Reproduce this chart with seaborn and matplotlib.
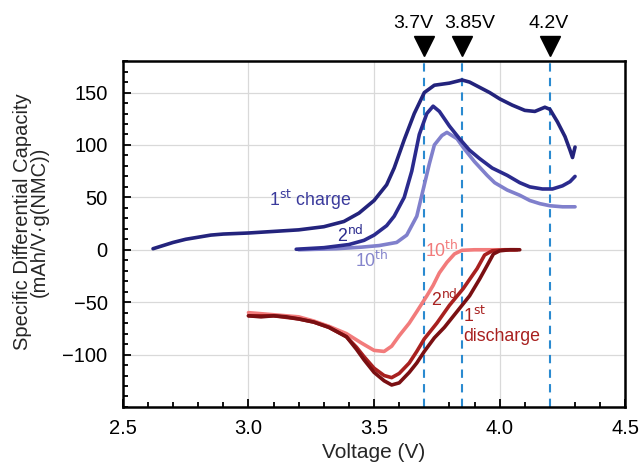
import matplotlib
matplotlib.use("Agg")
import matplotlib.pyplot as plt
import seaborn as sns
import pandas as pd
from matplotlib.ticker import MultipleLocator
import matplotlib.transforms as mtransforms

# ---- data ----
ch1_v = [2.62, 2.66, 2.70, 2.75, 2.80, 2.85, 2.90, 3.00, 3.10, 3.20, 3.30, 3.38, 3.44, 3.50, 3.55,
         3.58, 3.62, 3.66, 3.70, 3.74, 3.80, 3.85, 3.88, 3.92, 3.96, 4.00, 4.05, 4.10, 4.14, 4.18,
         4.20, 4.23, 4.26, 4.28, 4.29, 4.30]
ch1_q = [1, 4, 7, 10, 12, 14, 15, 16, 17.5, 19, 22, 27, 35, 47, 62,
         78, 105, 130, 150, 157, 159, 162, 160, 155, 150, 144, 138, 133, 132, 136,
         134, 122, 108, 95, 88, 98]

ch2_v = [3.19, 3.30, 3.40, 3.46, 3.50, 3.55, 3.58, 3.62, 3.65, 3.68, 3.71, 3.735, 3.76, 3.80, 3.84,
         3.88, 3.92, 3.97, 4.03, 4.08, 4.12, 4.17, 4.21, 4.25, 4.28, 4.30]
ch2_q = [0.5, 2, 5, 9, 14, 23, 32, 50, 75, 110, 130, 137, 132, 118, 106,
         95, 87, 78, 71, 64, 60, 58, 58, 61, 65, 70]

ch10_v = [3.20, 3.35, 3.45, 3.52, 3.59, 3.63, 3.67, 3.70, 3.72, 3.74, 3.77, 3.79, 3.83, 3.86, 3.90,
          3.95, 3.98, 4.03, 4.08, 4.12, 4.16, 4.20, 4.25, 4.30]
ch10_q = [0, 1, 2.5, 4, 7, 14, 32, 62, 82, 100, 109, 112, 106, 96, 84,
          71, 64, 57, 52, 47, 44, 42, 41, 41]

dis1_v = [3.00, 3.05, 3.10, 3.15, 3.20, 3.26, 3.32, 3.39, 3.43, 3.46, 3.50, 3.54, 3.57, 3.60, 3.64,
          3.67, 3.70, 3.74, 3.78, 3.84, 3.88, 3.92, 3.95, 3.975, 4.00, 4.04, 4.08]
dis1_q = [-63, -64, -63, -64, -66, -69, -74, -83, -95, -105, -117, -125, -129, -127, -117,
          -108, -97, -84, -74, -56, -44, -28, -15, -4, -1, 0, 0]

dis2_v = [3.00, 3.10, 3.20, 3.26, 3.32, 3.39, 3.43, 3.46, 3.50, 3.54, 3.57, 3.60, 3.64, 3.67, 3.70,
          3.75, 3.80, 3.855, 3.91, 3.94, 3.97, 4.02, 4.07]
dis2_q = [-63, -63, -66, -69, -74, -83, -93, -102, -113, -120, -122, -118, -108, -97, -85,
          -70, -53, -37, -18, -5, -1, 0, 0]

dis10_v = [3.00, 3.10, 3.20, 3.26, 3.32, 3.39, 3.45, 3.50, 3.54, 3.57, 3.60, 3.64, 3.67, 3.71, 3.735,
           3.76, 3.79, 3.82, 3.85, 3.90, 4.00, 4.06]
dis10_q = [-60, -62, -64, -68, -73, -80, -89, -96, -97, -92, -82, -70, -59, -44, -34,
           -22, -12, -4, -0.5, 0, 0, 0]

marker_v = [3.7, 3.85, 4.2]
marker_labels = ["3.7V", "3.85V", "4.2V"]

xticks = [2.5, 3.0, 3.5, 4.0, 4.5]
yticks = [-100, -50, 0, 50, 100, 150]

# ---- styling ----
sns.set_theme(style="white")
plt.rcParams['font.family'] = ['Liberation Sans', 'DejaVu Sans']

fig = plt.figure(figsize=(6.4, 4.63), dpi=100)
ax = fig.add_axes([0.192, 0.121, 0.785, 0.747])

series = [
    (dis10_v, dis10_q, "#f27b7b"),
    (dis2_v, dis2_q, "#a8201f"),
    (dis1_v, dis1_q, "#7a0f12"),
    (ch10_v, ch10_q, "#8080cc"),
    (ch2_v, ch2_q, "#2b2b8e"),
    (ch1_v, ch1_q, "#23237c"),
]
for v, q, c in series:
    df = pd.DataFrame({"V": v, "Q": q})
    sns.lineplot(data=df, x="V", y="Q", color=c, lw=2.6, sort=False, ax=ax, zorder=3)

for mv in marker_v:
    ax.axvline(mv, color="#2a8ad0", ls=(0, (4, 3)), lw=1.5, zorder=2)

ax.set_xlim(2.5, 4.5)
ax.set_ylim(-150, 180)
ax.set_xticks(xticks)
ax.set_xticklabels([f"{t:.1f}" for t in xticks])
ax.set_yticks(yticks)
ax.set_yticklabels([str(t).replace("-", "\u2212") for t in yticks])
ax.xaxis.set_minor_locator(MultipleLocator(0.1))
ax.yaxis.set_minor_locator(MultipleLocator(10))
ax.grid(True, which="major", color="#d9d9d9", lw=0.9, zorder=0)
ax.tick_params(which="both", direction="in", left=True, bottom=True, colors="black",
               labelsize=14.5, width=1.3)
ax.tick_params(which="major", length=6)
ax.tick_params(axis="x", which="major", pad=9)
ax.tick_params(axis="y", which="major", pad=11)
ax.tick_params(which="minor", length=3.5)
for s in ax.spines.values():
    s.set_color("black")
    s.set_linewidth(1.8)

ax.set_xlabel("Voltage (V)", fontsize=15, labelpad=3)
ax.set_ylabel("Specific Differential Capacity\n(mAh/V\u00b7g(NMC))", fontsize=14.5,
              linespacing=0.9)
ax.yaxis.set_label_coords(-0.147, 0.535)

# markers above the axes
trans = mtransforms.blended_transform_factory(ax.transData, ax.transAxes)
for mv in marker_v:
    ax.plot([mv], [1.045], marker="v", color="black", markersize=15, transform=trans,
            clip_on=False, zorder=5)
label_x = [3.655, 3.882, 4.193]
for lx, lab in zip(label_x, marker_labels):
    ax.text(lx, 1.11, lab, transform=trans, ha="center", va="center", fontsize=14,
            color="black", clip_on=False)

# curve annotations
ax.text(3.245, 48, "1$^{\\mathrm{st}}$ charge", color="#3a3a9c", fontsize=12.8, ha="center", va="center")
ax.text(3.405, 14, "2$^{\\mathrm{nd}}$", color="#2b2b8e", fontsize=12.8, ha="center", va="center")
ax.text(3.49, -10, "10$^{\\mathrm{th}}$", color="#8585cc", fontsize=12.8, ha="center", va="center")
ax.text(3.77, 0, "10$^{\\mathrm{th}}$", color="#f27b7b", fontsize=12.8, ha="center", va="center")
ax.text(3.78, -47, "2$^{\\mathrm{nd}}$", color="#a8201f", fontsize=12.8, ha="center", va="center")
ax.text(3.855, -63, "1$^{\\mathrm{st}}$", color="#a8201f", fontsize=12.8, ha="left", va="center")
ax.text(3.855, -83, "discharge", color="#a8201f", fontsize=12.8, ha="left", va="center")

fig.savefig("out.png", dpi=100)
